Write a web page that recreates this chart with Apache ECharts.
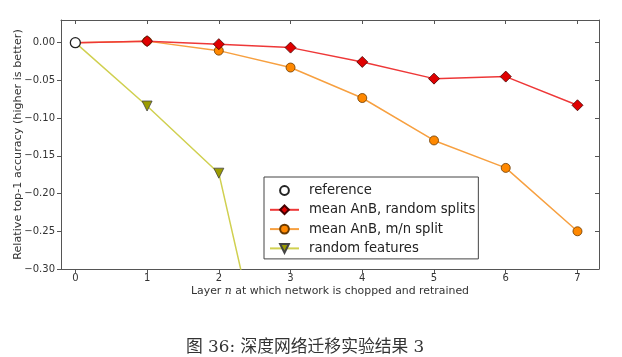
<!DOCTYPE html>
<html><head><meta charset="utf-8">
<script src="https://cdn.jsdelivr.net/npm/echarts@6/dist/echarts.min.js"></script>
<style>html,body{margin:0;padding:0;background:#fff}#c{width:622px;height:357px}</style>
</head><body><div id="c"></div>
<script>
const layers = [0, 1, 2, 3, 4, 5, 6, 7];
const yTicks = [-0.30, -0.25, -0.20, -0.15, -0.10, -0.05, 0.00];
const referenceVals = [0.0];
const randomSplits = [0.0, 0.002, -0.002, -0.0066, -0.0256, -0.0477, -0.045, -0.083];
const mnSplit = [0.0, 0.002, -0.0106, -0.033, -0.0734, -0.1296, -0.166, -0.250];
const randomFeatures = [0.0, -0.084, -0.173, -0.59];

const pairs = (ys) => ys.map((v, i) => i === 0 ? {value: [layers[i], v], symbol: 'none'} : [layers[i], v]);
const chart = echarts.init(document.getElementById('c'));
const fontF = 'DejaVu Sans';
const axisCol = '#555';
const tickOut = {show: true, inside: false, length: 4, lineStyle: {color: axisCol}};
const tickIn = {show: true, inside: true, length: 4, lineStyle: {color: axisCol}};
const fmtY = v => (Number(v) < -1e-9 ? '\u2212' : '') + Math.abs(Number(v)).toFixed(2);
chart.setOption({
  animation: false,
  grid: {left: 61, right: 23, top: 20, bottom: 88, containLabel: false, outerBoundsMode: 'none'},
  xAxis: [{
    type: 'value', min: -0.2, max: 7.3, position: 'bottom',
    axisLine: {show: true, onZero: false, lineStyle: {color: axisCol, width: 1}},
    axisTick: Object.assign({customValues: layers}, tickOut),
    axisLabel: {customValues: layers, color: '#333', fontFamily: fontF, fontSize: 10, margin: 4},
    splitLine: {show: false},
    name: '{a|Layer }{i|n}{a| at which network is chopped and retrained}',
    nameLocation: 'middle', nameGap: 17, nameMoveOverlap: false,
    nameTextStyle: {rich: {a: {fontFamily: fontF, fontSize: 10.9, color: '#333'}, i: {fontFamily: 'DejaVu Serif', fontStyle: 'italic', fontSize: 10.9, color: '#333'}}}
  }, {
    type: 'value', min: -0.2, max: 7.3, position: 'top',
    axisLine: {show: true, onZero: false, lineStyle: {color: axisCol, width: 1}},
    axisTick: Object.assign({customValues: layers}, tickIn),
    axisLabel: {show: false}, splitLine: {show: false}
  }],
  yAxis: [{
    type: 'value', min: -0.30, max: 0.03, position: 'left',
    axisLine: {show: true, onZero: false, lineStyle: {color: axisCol, width: 1}},
    axisTick: Object.assign({customValues: yTicks}, tickOut),
    axisLabel: {customValues: yTicks, color: '#333', fontFamily: fontF, fontSize: 10, margin: 6, formatter: fmtY},
    splitLine: {show: false},
    name: 'Relative top-1 accuracy (higher is better)', nameLocation: 'middle', nameGap: 37, nameMoveOverlap: false,
    nameTextStyle: {fontFamily: fontF, fontSize: 11.2, color: '#333'}
  }, {
    type: 'value', min: -0.30, max: 0.03, position: 'right',
    axisLine: {show: true, onZero: false, lineStyle: {color: axisCol, width: 1}},
    axisTick: Object.assign({customValues: yTicks}, tickIn),
    axisLabel: {show: false}, splitLine: {show: false}
  }],
  legend: {
    orient: 'vertical', left: 264, top: 177,
    borderColor: '#444', borderWidth: 1, borderRadius: 0,
    padding: [7, 3, 4, 5], itemWidth: 29, itemHeight: 11, itemGap: 6.3,
    textStyle: {fontFamily: fontF, fontSize: 13.2, color: '#222', padding: [0, 0, 0, 5]},
    data: ['reference', 'mean AnB, random splits', 'mean AnB, m/n split', 'random features']
  },
  series: [
    {name: 'random features', type: 'line', data: pairs(randomFeatures), z: 2,
      symbol: 'triangle', symbolRotate: 180, symbolSize: 10,
      lineStyle: {color: '#d0d050', width: 1.5},
      itemStyle: {color: '#9c9c00', borderColor: '#444', borderWidth: 0.8}},
    {name: 'mean AnB, m/n split', type: 'line', data: pairs(mnSplit), z: 3,
      symbol: 'circle', symbolSize: 9,
      lineStyle: {color: '#f7a040', width: 1.5},
      itemStyle: {color: '#ff8800', borderColor: '#6a3a00', borderWidth: 0.8}},
    {name: 'mean AnB, random splits', type: 'line', data: pairs(randomSplits), z: 4,
      symbol: 'diamond', symbolSize: 11,
      lineStyle: {color: '#ee3838', width: 1.5},
      itemStyle: {color: '#e00000', borderColor: '#400', borderWidth: 0.8}},
    {name: 'reference', type: 'line', data: [[layers[0], referenceVals[0]]], z: 5,
      symbol: 'circle', symbolSize: 10,
      lineStyle: {color: '#333', width: 0},
      itemStyle: {color: '#fff', borderColor: '#222', borderWidth: 1.3}}
  ],
  graphic: [{
    type: 'text', left: 186, top: 339,
    style: {text: '图 36: 深度网络迁移实验结果 3', font: '16.8px "DejaVu Serif", "Noto Sans CJK SC"', fill: '#333'}
  }]
});
</script></body></html>
